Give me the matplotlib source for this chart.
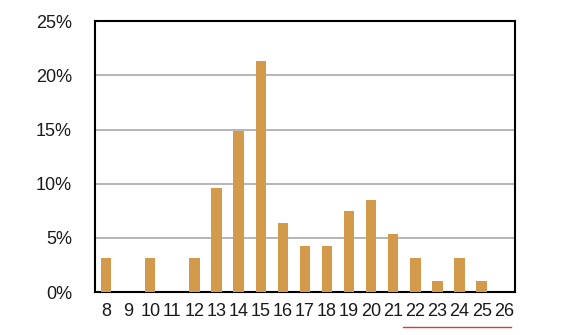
import matplotlib
matplotlib.use("Agg")
import matplotlib.pyplot as plt
import matplotlib.transforms as mtransforms
from matplotlib.lines import Line2D
import numpy as np

plt.rcParams['font.family'] = ['Liberation Sans', 'DejaVu Sans']

ages = [8, 9, 10, 11, 12, 13, 14, 15, 16, 17, 18, 19, 20, 21, 22, 23, 24, 25, 26]
counts = [3, 0, 3, 0, 3, 9, 14, 20, 6, 4, 4, 7, 8, 5, 3, 1, 3, 1, 0]
total = sum(counts)
percents = [c / total * 100 for c in counts]
yticks = [0, 5, 10, 15, 20, 25]

fig = plt.figure(figsize=(5.62, 3.35), dpi=100)
ax = fig.add_axes([0.169, 0.128, 0.747, 0.809])

x = np.arange(len(ages))
ax.bar(x, percents, width=0.47, color='#D39A4C', zorder=3)

ax.set_xlim(-0.5, len(ages) - 0.5)
ax.set_ylim(0, 25)
ax.set_yticks(yticks)
ax.set_yticklabels([f"{t}%" for t in yticks])
ax.set_xticks(x)
ax.set_xticklabels([str(a) for a in ages])
ax.tick_params(axis='both', length=0, labelsize=13, colors='#1a1a1a')
ax.tick_params(axis='y', pad=16.5)
ax.tick_params(axis='x', pad=7.5)
ax.grid(axis='y', color='#b0b0b0', linewidth=1.3, zorder=0)
for s in ax.spines.values():
    s.set_color('black')
    s.set_linewidth(1.5)

trans = mtransforms.blended_transform_factory(ax.transData, fig.transFigure)
i0 = ages.index(22)
i1 = ages.index(26)
fig.add_artist(Line2D([i0 - 0.55, i1 + 0.35], [0.025, 0.025], transform=trans,
                      color='#d93a3a', linewidth=1.0))

fig.savefig('out.png', dpi=100)
